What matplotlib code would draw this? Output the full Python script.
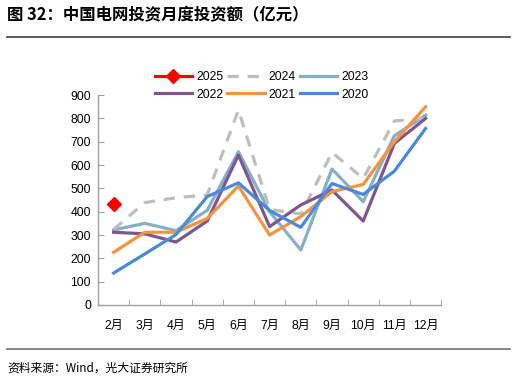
import matplotlib
matplotlib.use('Agg')

import numpy as np
import matplotlib.pyplot as plt
from matplotlib.lines import Line2D

# months on the x axis
months = ["2月", "3月", "4月", "5月", "6月", "7月", "8月", "9月", "10月", "11月", "12月"]

# monthly grid investment, 100 million yuan
y2025 = [435]
y2024 = [324, 439, 460, 472, 836, 410, 390, 654, 543, 789, 800]
y2023 = [322, 350, 319, 406, 657, 400, 236, 583, 443, 726, 814]
y2022 = [312, 305, 270, 360, 643, 336, 429, 493, 360, 693, 800]
y2021 = [226, 312, 312, 371, 510, 300, 379, 486, 517, 700, 850]
y2020 = [137, 219, 302, 465, 524, 405, 333, 521, 474, 574, 757]

c2025 = "#FF0000"
c2024 = "#BEBEBE"
c2023 = "#86AFC8"
c2022 = "#7E5690"
c2021 = "#F5943F"
c2020 = "#4A8ADB"

plt.rcParams['font.family'] = ['Liberation Sans', 'Noto Sans CJK SC']
plt.rcParams['font.size'] = 8.7

fig = plt.figure(figsize=(5.16, 3.82), dpi=100)
ax = fig.add_axes([0.190, 0.2016, 0.665, 0.5494])

x = np.arange(len(months))
lw = 2.3
ax.plot(x, y2023, color=c2023, lw=lw, label="2023")
ax.plot(x, y2024, color=c2024, lw=lw, linestyle=(0, (3.5, 2.8)), label="2024")
ax.plot(x, y2022, color=c2022, lw=lw, label="2022")
ax.plot(x, y2021, color=c2021, lw=lw, label="2021")
ax.plot(x, y2020, color=c2020, lw=lw, label="2020")
ax.plot(x[:len(y2025)], y2025, color=c2025, lw=lw, marker='D', ms=7.5, label="2025")

ax.set_xlim(-0.5, len(months) - 0.5)
ax.set_ylim(0, 900)
ax.set_yticks(np.arange(0, 901, 100))
ax.set_xticks(x)
ax.set_xticklabels(months)
ax.set_xticks(np.arange(-0.5, len(months), 1), minor=True)
ax.tick_params(axis='x', which='major', length=0, pad=11)
ax.tick_params(axis='x', which='minor', direction='in', length=4, color='#A0A0A0')
ax.tick_params(axis='y', direction='in', length=4, color='#A0A0A0', pad=5)
for s in ['top', 'right']:
    ax.spines[s].set_visible(False)
for s in ['left', 'bottom']:
    ax.spines[s].set_color('#A0A0A0')
    ax.spines[s].set_linewidth(1.0)

# legend, filled column by column -> rows read 2025 2024 2023 / 2022 2021 2020
h = {l.get_label(): l for l in ax.get_lines()}
order = ["2025", "2022", "2024", "2021", "2023", "2020"]
fig.legend([h[k] for k in order], order, ncol=3, loc='center',
           bbox_to_anchor=(0.507, 0.775), frameon=False,
           handlelength=3.1, handletextpad=0.35, columnspacing=0.3,
           labelspacing=0.45, borderpad=0)

# title and frame lines
fig.text(0.014, 0.96, "图 32：中国电网投资月度投资额（亿元）", fontsize=11.8,
         fontweight='bold', family=['Noto Sans CJK SC'], va='center', ha='left')
fig.add_artist(Line2D([0.014, 0.988], [0.903, 0.903], color='#404040', lw=1.2))
fig.add_artist(Line2D([0.014, 0.988], [0.086, 0.086], color='#707070', lw=1.2))
fig.text(0.014, 0.037, "资料来源：Wind，光大证券研究所", fontsize=8.5,
         family=['Noto Sans CJK SC'], va='center', ha='left')

fig.savefig("out.png", dpi=100)
